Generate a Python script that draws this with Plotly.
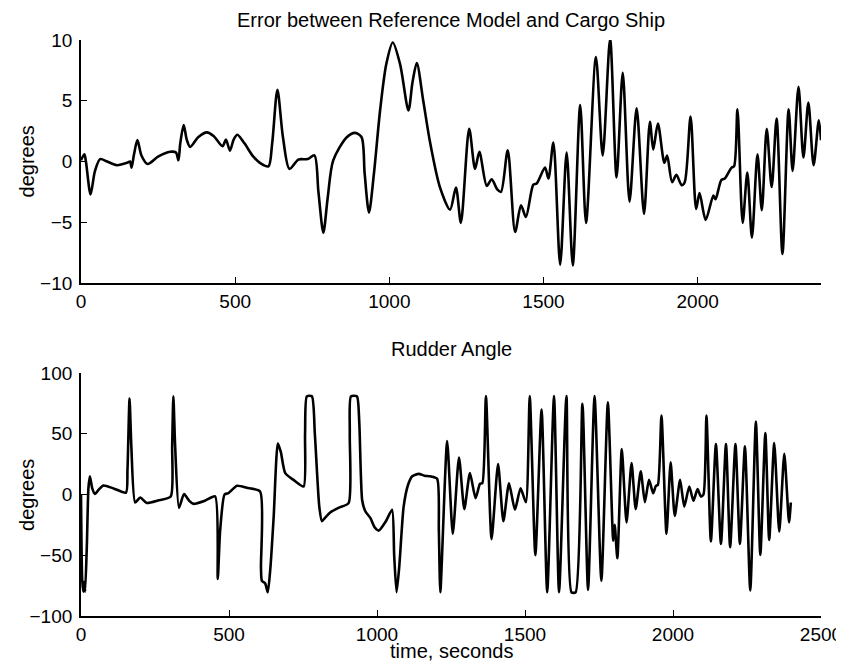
import plotly.graph_objects as go
from plotly.subplots import make_subplots

# Error between reference model and cargo ship (degrees)
err_t = [0, 11, 16, 31, 45, 62, 85, 116, 150, 159, 164, 172, 183, 196, 216, 250, 289, 308, 316, 322,
         333, 343, 354, 380, 408, 430, 459, 470, 483, 495, 507, 530, 559, 585, 608, 620, 637, 655, 676,
         705, 735, 757, 770, 786, 800, 818, 862, 889, 910, 920, 934, 950, 970, 990, 1011, 1035, 1062,
         1075, 1089, 1110, 1132, 1164, 1197, 1216, 1232, 1259, 1278, 1292, 1316, 1332, 1350, 1362,
         1384, 1408, 1427, 1443, 1467, 1478, 1505, 1516, 1532, 1554, 1575, 1595, 1619, 1638, 1670,
         1692, 1716, 1737, 1757, 1779, 1802, 1826, 1845, 1856, 1871, 1892, 1901, 1917, 1931, 1948,
         1958, 1977, 1995, 2006, 2026, 2051, 2058, 2077, 2088, 2110, 2118, 2129, 2146, 2161, 2176,
         2194, 2208, 2224, 2240, 2256, 2275, 2295, 2308, 2327, 2343, 2359, 2376, 2393, 2400]
err_v = [0.1, 0.6, 0.0, -2.7, -0.8, 0.2, 0.0, -0.3, -0.1, 0.0, -0.5, 0.6, 1.76, 0.5, -0.2, 0.4, 0.8,
         0.74, 0.1, 1.5, 3.0, 1.8, 1.2, 2.0, 2.4, 2.1, 1.26, 1.8, 0.9, 1.8, 2.2, 1.5, 0.4, -0.2, -0.4,
         1.5, 5.9, 2.0, -0.6, 0.16, 0.2, 0.5, -2.5, -5.85, -3.0, 0.1, 2.0, 2.36, 2.0, -1.0, -4.2, -1.0,
         4.2, 8.0, 9.8, 8.0, 4.2, 6.5, 8.1, 5.0, 1.6, -2.1, -3.96, -2.14, -5.05, 2.7, -0.6, 0.8, -2.0,
         -1.46, -2.3, -2.5, 0.93, -5.8, -3.6, -4.56, -1.9, -1.8, -0.5, -1.4, 1.57, -8.5, 0.74, -8.54,
         4.64, -5.05, 8.6, 0.5, 10.1, -1.3, 7.3, -3.3, 4.37, -4.3, 3.27, 1.0, 3.13, -0.1, 0.5, -1.7,
         -1.1, -1.95, -1.7, 3.7, -3.9, -2.6, -4.8, -2.8, -3.1, -1.5, -1.4, -0.5, -0.4, 4.3, -5.05,
         -0.9, -6.26, 0.6, -4.0, 2.7, -2.1, 3.54, -7.6, 4.3, -0.77, 6.15, 0.33, 4.86, -0.3, 3.4, 1.76]

# Rudder angle (degrees)
rud_t = [0, 4, 8, 11, 14, 20, 25, 30, 38, 47, 60, 76, 110, 152, 157, 164, 170, 183, 200, 222, 260,
         303, 308, 312, 318, 331, 348, 365, 380, 420, 453, 462, 470, 485, 498, 527, 560, 605, 608,
         611, 622, 631, 640, 651, 665, 675, 690, 718, 752, 757, 763, 780, 790, 805, 814, 825, 842,
         870, 904, 908, 912, 932, 940, 950, 961, 978, 992, 1006, 1030, 1051, 1058, 1066, 1075, 1090,
         1105, 1119, 1141, 1160, 1180, 1203, 1209, 1214, 1237, 1256, 1277, 1295, 1314, 1333, 1348,
         1356, 1368, 1387, 1409, 1427, 1446, 1466, 1485, 1503, 1516, 1535, 1556, 1575, 1598, 1615,
         1640, 1657, 1671, 1694, 1713, 1735, 1758, 1780, 1798, 1803, 1812, 1827, 1843, 1860, 1874,
         1891, 1905, 1919, 1933, 1942, 1949, 1961, 1978, 1992, 2006, 2024, 2038, 2055, 2069, 2083,
         2094, 2103, 2113, 2128, 2145, 2162, 2179, 2193, 2211, 2226, 2243, 2261, 2280, 2295, 2312,
         2325, 2342, 2359, 2376, 2392, 2398]
rud_v = [0, -70, -80, -72, -80, -40, 5, 15, 5, 0.5, 4, 7.4, 5, 1.6, 20, 79, 40, -6.6, -2.5, -7, -5,
         -1.6, 40, 80.8, 40, -11, 0.3, -5, -7.7, -5, -1.6, -69.5, -30, 0, 1.1, 7.1, 5.5, 2.5, -60,
         -71, -73, -80.5, -60, -18, 42, 35, 17.6, 12, 6.6, 50, 80.8, 80.8, 50, -10, -22, -19, -14.8,
         -11, -7.1, 50, 80.8, 80.8, 60, -5, -14, -19.5, -27, -29.7, -22, -12.6, -50, -80.5, -60, -10,
         8, 15, 17, 15.5, 15, 13, -30, -80.5, 44, -32.4, 30.5, -12, 17.6, -3, 8.8, 9.3, 81, -36.8,
         25, -22, 9.3, -12.6, 5.2, -6.3, 81, -50, 70, -80.5, 81, -80.5, 81, -80.5, -80.5, 74.7,
         -78.6, 81, -71, 75.8, -38, -25, -52.5, 37.4, -23, 25.8, -12, 19, -6.3, 12, 1, 7, 8, 65,
         -32.4, 26.4, -17.6, 12, -10, 6.6, -5.2, 4.4, -1.6, 0, 65, -38.7, 41.5, -40.7, 41.5, -43.4,
         41.5, -40.7, 39.6, -79, 60, -49.7, 50.5, -37.4, 42.3, -30.5, 33.5, -23, -6.6]

top_title = "Error between Reference Model and Cargo Ship"
bot_title = "Rudder Angle"
y_label = "degrees"
x_label = "time, seconds"

FONT = "Liberation Sans, Arial, sans-serif"

fig = make_subplots(rows=2, cols=1, vertical_spacing=0.0)
fig.add_trace(go.Scatter(x=err_t, y=err_v, mode="lines",
                         line=dict(color="black", width=2.6, shape="spline", smoothing=0.8),
                         showlegend=False), row=1, col=1)
fig.add_trace(go.Scatter(x=rud_t, y=rud_v, mode="lines",
                         line=dict(color="black", width=2.6, shape="spline", smoothing=0.6),
                         showlegend=False), row=2, col=1)

axis_common = dict(showgrid=False, zeroline=False, showline=True, linecolor="black", linewidth=1.8,
                   ticks="inside", ticklen=6, tickwidth=1.4, tickcolor="black", mirror=False,
                   automargin=False,
                   tickfont=dict(family=FONT, size=19, color="black"))

# The page body adds an 8px offset; the figure is sized so the plot area lands where the reference has it.
fig.update_layout(
    width=836, height=657,
    margin=dict(l=73, r=23, t=32, b=49),
    plot_bgcolor="white", paper_bgcolor="white",
    xaxis=dict(domain=[0, 1], range=[0, 2400], tickvals=[0, 500, 1000, 1500, 2000], **axis_common),
    yaxis=dict(domain=[0.578, 1.0], range=[-10, 10], tickvals=[-10, -5, 0, 5, 10],
               ticklabelstandoff=3, **axis_common),
    xaxis2=dict(domain=[0, 1], range=[0, 2500], tickvals=[0, 500, 1000, 1500, 2000, 2500], **axis_common),
    yaxis2=dict(domain=[0, 0.4219], range=[-100, 100], tickvals=[-100, -50, 0, 50, 100],
                ticklabelstandoff=3, **axis_common),
)

ann_font = dict(family=FONT, size=20, color="black")
fig.add_annotation(text=top_title, xref="paper", yref="paper", x=0.5, y=1.035,
                   showarrow=False, font=ann_font, xanchor="center", yanchor="middle")
fig.add_annotation(text=bot_title, xref="paper", yref="paper", x=0.5, y=0.4635,
                   showarrow=False, font=ann_font, xanchor="center", yanchor="middle")
fig.add_annotation(text=y_label, xref="paper", yref="paper", x=-0.073, y=(616 - 161.5) / 576,
                   showarrow=False, font=ann_font, textangle=-90, xanchor="center", yanchor="middle")
fig.add_annotation(text=y_label, xref="paper", yref="paper", x=-0.073, y=(616 - 495) / 576,
                   showarrow=False, font=ann_font, textangle=-90, xanchor="center", yanchor="middle")
fig.add_annotation(text=x_label, xref="paper", yref="paper", x=0.5, y=-0.061,
                   showarrow=False, font=ann_font, xanchor="center", yanchor="middle")

fig.write_html("out.html")
